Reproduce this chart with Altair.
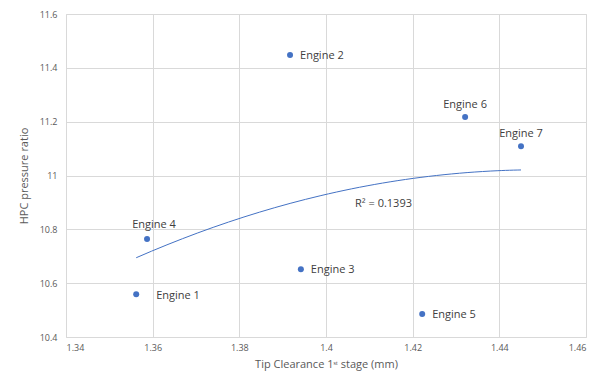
import altair as alt
import pandas as pd

engines = ["Engine 1", "Engine 2", "Engine 3", "Engine 4", "Engine 5", "Engine 6", "Engine 7"]
tip_clearance = [1.3562, 1.3917, 1.3942, 1.3587, 1.4222, 1.4321, 1.4450]
pressure_ratio = [10.559, 11.448, 10.652, 10.764, 10.485, 11.217, 11.109]
label_side = ["right-wide", "right", "right", "above-right", "right", "above", "above"]

x_ticks = [1.34, 1.36, 1.38, 1.40, 1.42, 1.44, 1.46]
y_ticks = [10.4, 10.6, 10.8, 11.0, 11.2, 11.4, 11.6]

r2_text = ["R² = 0.1393"]
r2_x = [1.4067]
r2_y = [10.895]

df = pd.DataFrame({"engine": engines, "x": tip_clearance, "y": pressure_ratio, "side": label_side})
df_r2 = pd.DataFrame({"t": r2_text, "x": r2_x, "y": r2_y})

FONT = "Open Sans"
BLUE = "#4472C4"

xs = alt.Scale(domain=[1.34, 1.46], nice=False, zero=False)
ys = alt.Scale(domain=[10.4, 11.6], nice=False, zero=False)

xax = alt.Axis(values=x_ticks, format="~g", title="Tip Clearance 1ˢᵗ stage (mm)",
               grid=True, gridColor="#d9d9d9", domain=False, ticks=False,
               labelFont=FONT, labelFontSize=9, labelColor="#595959", labelPadding=6,
               titleFont=FONT, titleFontSize=11, titleFontWeight="normal", titleColor="#595959",
               titlePadding=6)
yax = alt.Axis(values=y_ticks, format="~g", title="HPC pressure ratio",
               grid=True, gridColor="#d9d9d9", domain=False, ticks=False,
               labelFont=FONT, labelFontSize=9, labelColor="#595959", labelPadding=9,
               titleFont=FONT, titleFontSize=11, titleFontWeight="normal", titleColor="#595959",
               titlePadding=10)

base = alt.Chart(df)

points = base.mark_circle(size=36, color=BLUE, opacity=1).encode(
    x=alt.X("x:Q", scale=xs, axis=xax),
    y=alt.Y("y:Q", scale=ys, axis=yax),
)

trend = base.transform_regression("x", "y", method="poly", order=2).mark_line(
    color=BLUE, strokeWidth=1
).encode(x=alt.X("x:Q", scale=xs), y=alt.Y("y:Q", scale=ys))

lab_right = base.transform_filter(alt.datum.side == "right").mark_text(
    align="left", baseline="middle", dx=10, dy=1, font=FONT, fontSize=11, color="#404040"
).encode(x=alt.X("x:Q", scale=xs), y=alt.Y("y:Q", scale=ys), text="engine:N")

lab_right_wide = base.transform_filter(alt.datum.side == "right-wide").mark_text(
    align="left", baseline="middle", dx=20, dy=2, font=FONT, fontSize=11, color="#404040"
).encode(x=alt.X("x:Q", scale=xs), y=alt.Y("y:Q", scale=ys), text="engine:N")

lab_above = base.transform_filter(alt.datum.side == "above").mark_text(
    align="center", baseline="bottom", dy=-7, font=FONT, fontSize=11, color="#404040"
).encode(x=alt.X("x:Q", scale=xs), y=alt.Y("y:Q", scale=ys), text="engine:N")

lab_above_right = base.transform_filter(alt.datum.side == "above-right").mark_text(
    align="center", baseline="bottom", dx=7, dy=-9, font=FONT, fontSize=11, color="#404040"
).encode(x=alt.X("x:Q", scale=xs), y=alt.Y("y:Q", scale=ys), text="engine:N")

r2 = alt.Chart(df_r2).mark_text(
    align="left", baseline="middle", font=FONT, fontSize=11, color="#404040"
).encode(x=alt.X("x:Q", scale=xs), y=alt.Y("y:Q", scale=ys), text="t:N")

chart = alt.layer(points, trend, lab_right, lab_right_wide, lab_above, lab_above_right, r2).properties(
    width=520, height=323,
    autosize=alt.AutoSizeParams(type="none"),
    padding={"left": 58, "top": 6, "right": 6, "bottom": 36},
).configure_view(stroke=None).configure(background="white")

chart.save("out.html", embed_options={"renderer": "svg", "actions": False})
